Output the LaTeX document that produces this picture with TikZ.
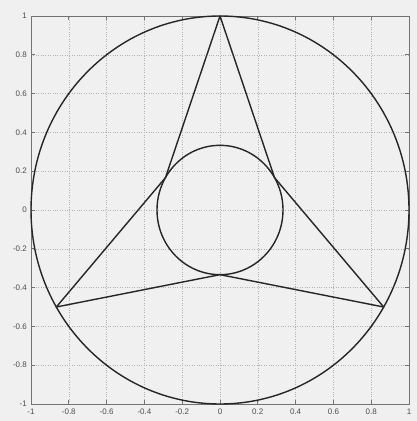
\documentclass[tikz,border=0pt]{standalone}
\usepackage{fontspec}
\setmainfont{Liberation Sans}
\begin{document}
\begin{tikzpicture}[x=1pt,y=1pt,
  frame/.style={draw=black!55,line width=0.8pt},
  gridline/.style={draw=black!30,line width=0.4pt,dotted},
  curve/.style={draw=black!85,line width=1.4pt,line join=round},
  ticklbl/.style={font=\fontsize{8}{9}\selectfont,text=black!70,inner sep=0pt}]
\fill[black!6] (0,0) rectangle (417,421);
\useasboundingbox (0,0) rectangle (417,421);
\begin{scope}[shift={(220,211)},x=189pt,y=194pt]
  % grid
  \foreach \v in {-0.8,-0.6,-0.4,-0.2,0,0.2,0.4,0.6,0.8}{
    \draw[gridline] (\v,-1) -- (\v,1);
    \draw[gridline] (-1,\v) -- (1,\v);
  }
  % ticks
  \foreach \v in {-0.8,-0.6,-0.4,-0.2,0,0.2,0.4,0.6,0.8}{
    \draw[frame] (\v,-1) -- ++(0,4pt);
    \draw[frame] (\v,1) -- ++(0,-4pt);
    \draw[frame] (-1,\v) -- ++(4pt,0);
    \draw[frame] (1,\v) -- ++(-4pt,0);
  }
  \draw[frame] (-1,-1) rectangle (1,1);
  % tick labels
  \foreach \v/\t in {-1/-1,-0.8/-0.8,-0.6/-0.6,-0.4/-0.4,-0.2/-0.2,0/0,0.2/0.2,0.4/0.4,0.6/0.6,0.8/0.8,1/1}{
    \node[ticklbl,anchor=north] at ([yshift=-5pt]\v,-1) {\t};
    \node[ticklbl,anchor=east] at ([xshift=-4pt]-1,\v) {\t};
  }
  % shapes
  \coordinate (A) at (90:1);
  \coordinate (B) at (210:1);
  \coordinate (C) at (330:1);
  \coordinate (P) at (150:0.3333);
  \coordinate (Q) at (270:0.3333);
  \coordinate (R) at (30:0.3333);
  \draw[curve] (0,0) circle[x radius=1,y radius=1];
  \draw[curve] (0,0) circle[x radius=0.3333,y radius=0.3333];
  \draw[curve] (A) -- (P) -- (B) -- (Q) -- (C) -- (R) -- cycle;
\end{scope}
\end{tikzpicture}
\end{document}
